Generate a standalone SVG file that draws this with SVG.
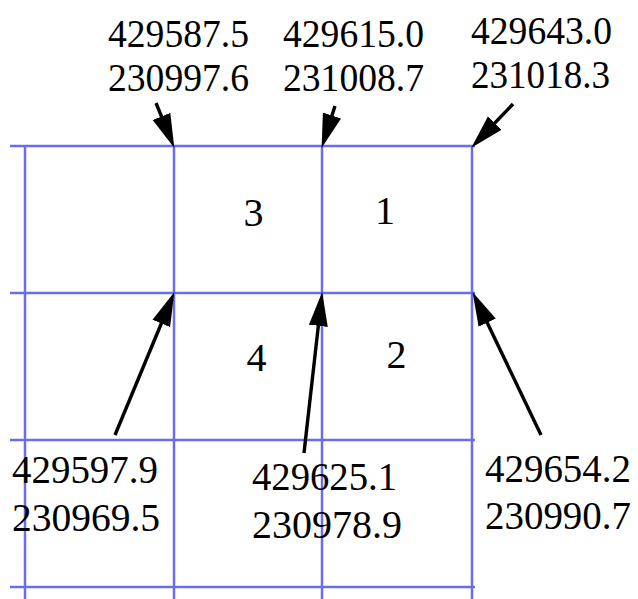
<svg xmlns="http://www.w3.org/2000/svg" width="638" height="599" viewBox="0 0 638 599">
<style>
.grid line{stroke:#6b6bee;stroke-width:2.5}
text{font-family:"Liberation Serif","Times New Roman",serif;font-size:41px;fill:#000}
.cell{text-anchor:middle;font-size:40px}
.edge{font-size:40px}
.arr line{stroke:#000;stroke-width:3.4;marker-end:url(#ah)}
</style>
<defs>
<marker id="ah" markerUnits="userSpaceOnUse" markerWidth="35" markerHeight="20" refX="13" refY="10" orient="auto" viewBox="0 0 35 20">
<path d="M0,0.5 L34,10 L0,19.5 z" fill="#000"/>
</marker>
</defs>
<rect width="638" height="599" fill="#fff"/>
<g id="grid" class="grid">
<line x1="10" y1="146" x2="475" y2="146"/>
<line x1="10" y1="293" x2="475" y2="293"/>
<line x1="10" y1="440" x2="475" y2="440"/>
<line x1="10" y1="587" x2="475" y2="587"/>
<line x1="25" y1="146" x2="25" y2="599"/>
<line x1="174" y1="146" x2="174" y2="599"/>
<line x1="322" y1="146" x2="322" y2="599"/>
<line x1="472" y1="146" x2="472" y2="599"/>
</g>
<g id="cell3"><text class="cell" x="253.5" y="226">3</text></g>
<g id="cell1"><text class="cell" x="385" y="224">1</text></g>
<g id="cell4"><text class="cell" x="256.5" y="371">4</text></g>
<g id="cell2"><text class="cell" x="396.5" y="368">2</text></g>
<g id="top1"><text x="108" y="47" textLength="141" lengthAdjust="spacingAndGlyphs">429587.5</text><text x="108" y="91" textLength="141" lengthAdjust="spacingAndGlyphs">230997.6</text></g>
<g id="top2"><text x="283" y="47" textLength="141" lengthAdjust="spacingAndGlyphs">429615.0</text><text x="283" y="91" textLength="141" lengthAdjust="spacingAndGlyphs">231008.7</text></g>
<g id="top3"><text x="471" y="44" textLength="141" lengthAdjust="spacingAndGlyphs">429643.0</text><text x="471" y="88" textLength="139" lengthAdjust="spacingAndGlyphs">231018.3</text></g>
<g id="bot1"><text x="12" y="483" textLength="146" lengthAdjust="spacingAndGlyphs">429597.9</text><text x="12" y="531" textLength="148" lengthAdjust="spacingAndGlyphs">230969.5</text></g>
<g id="bot2"><text x="252" y="490" textLength="145" lengthAdjust="spacingAndGlyphs">429625.1</text><text x="252" y="538" textLength="150" lengthAdjust="spacingAndGlyphs">230978.9</text></g>
<g id="bot3"><text class="edge" x="485" y="482" textLength="146" lengthAdjust="spacingAndGlyphs">429654.2</text><text class="edge" x="485" y="529" textLength="146" lengthAdjust="spacingAndGlyphs">230990.7</text></g>
<g id="connectors" class="arr">
<line x1="156" y1="103" x2="166.4" y2="128.5"/>
<line x1="335" y1="106" x2="328" y2="127.9"/>
<line x1="513" y1="104" x2="485.8" y2="132.5"/>
<line x1="115" y1="435" x2="166.3" y2="311.5"/>
<line x1="304" y1="453" x2="319.8" y2="312.9"/>
<line x1="541" y1="435" x2="481.6" y2="311"/>
</g>
</svg>
